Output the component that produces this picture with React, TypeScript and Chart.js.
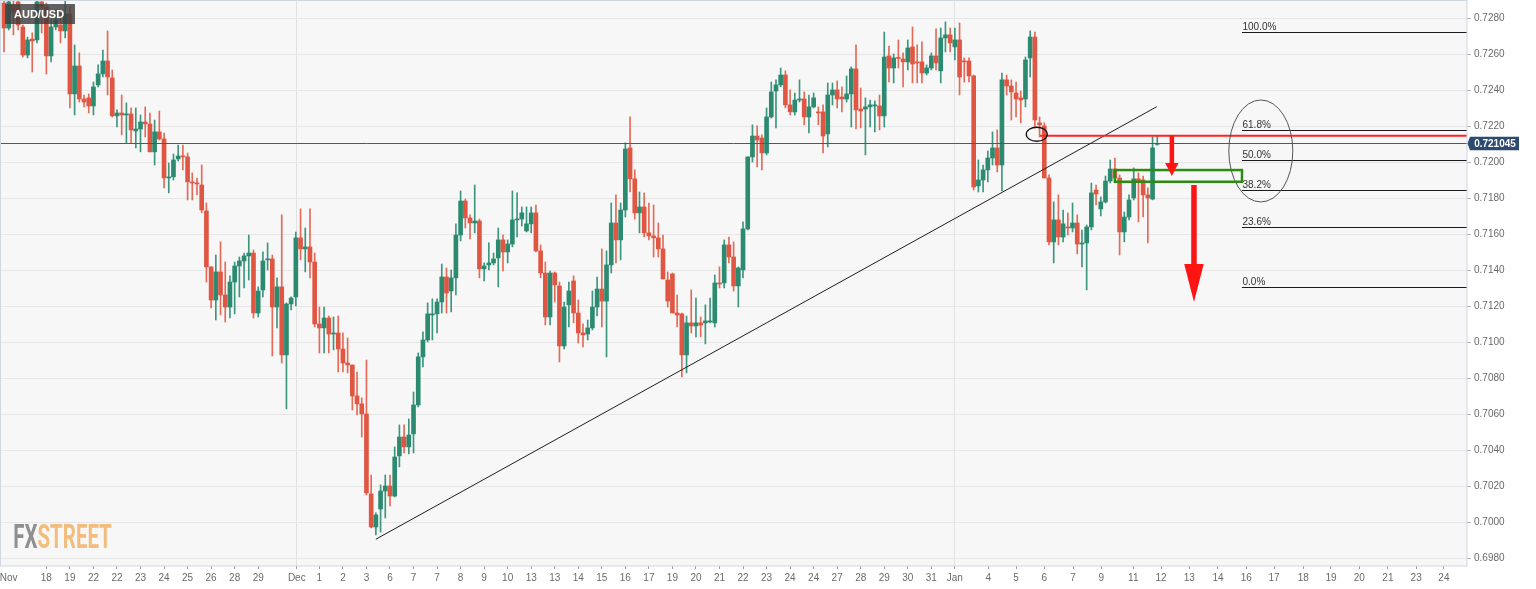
import React, { useEffect, useRef } from 'react';
import { Chart, registerables } from 'chart.js';

Chart.register(...registerables);

// ---- AUD/USD 4h candles (price values) ----
const opens = [
  0.72885, 0.72746, 0.72874, 0.72891, 0.72752, 0.72596, 0.72685, 0.72680, 0.72891, 0.72863,
  0.72591, 0.72752, 0.72763, 0.72730, 0.72824, 0.72380, 0.72535, 0.72352, 0.72358, 0.72313,
  0.72430, 0.72491, 0.72563, 0.72469, 0.72258, 0.72274, 0.72263, 0.72269, 0.72174, 0.72185,
  0.72224, 0.72213, 0.72058, 0.72169, 0.72130, 0.71913, 0.71919, 0.72019, 0.72035, 0.72030,
  0.71891, 0.71885, 0.71874, 0.71730, 0.71419, 0.71235, 0.71391, 0.71263, 0.71196, 0.71335,
  0.71424, 0.71452, 0.71480, 0.71496, 0.71163, 0.71291, 0.71458,
  0.71463, 0.71196, 0.71308, 0.70930, 0.71213, 0.71252, 0.71580, 0.71519, 0.71530, 0.71446,
  0.71102, 0.71080, 0.71135, 0.71046, 0.71052, 0.70963, 0.70885, 0.70874, 0.70702, 0.70658,
  0.70602, 0.70158, 0.69974, 0.70074, 0.70174, 0.70202, 0.70146, 0.70369, 0.70474, 0.70419,
  0.70491, 0.70652, 0.70919, 0.71013,
  0.71152, 0.71158, 0.71224, 0.71363, 0.71285, 0.71358, 0.71596, 0.71785, 0.71691, 0.71663,
  0.71674, 0.71408, 0.71430, 0.71441, 0.71469, 0.71569, 0.71502, 0.71546, 0.71680, 0.71685,
  0.71619, 0.71658, 0.71719, 0.71508, 0.71385, 0.71141, 0.71385, 0.71313, 0.70980, 0.71208,
  0.71341, 0.71163, 0.71052, 0.71046, 0.71080, 0.71196, 0.71296, 0.71229, 0.71430, 0.71663,
  0.71569, 0.71735, 0.72080, 0.71908, 0.71719, 0.71752, 0.71608, 0.71591, 0.71580, 0.71519,
  0.71346, 0.71380, 0.71163, 0.71158, 0.70930, 0.71108, 0.71091, 0.71108, 0.71108, 0.71113,
  0.71108, 0.71330, 0.71330, 0.71541, 0.71474, 0.71313, 0.71402, 0.71630, 0.72030, 0.72146,
  0.72135, 0.72052, 0.72252, 0.72396, 0.72430, 0.72485, 0.72319, 0.72280, 0.72346, 0.72352,
  0.72252, 0.72308, 0.72280, 0.72280, 0.72158, 0.72374, 0.72402, 0.72363, 0.72352, 0.72380,
  0.72519, 0.72296, 0.72296, 0.72308, 0.72313, 0.72313, 0.72258, 0.72591, 0.72524, 0.72580,
  0.72574, 0.72558, 0.72641, 0.72558, 0.72558, 0.72496, 0.72524, 0.72591, 0.72508, 0.72691,
  0.72708, 0.72641, 0.72680, 0.72563, 0.72563, 0.72480, 0.71869, 0.71902, 0.71958, 0.72024,
  0.72080, 0.71985, 0.72458, 0.72424, 0.72385, 0.72358, 0.72352, 0.72580, 0.72696, 0.72219,
  0.72202, 0.71913, 0.71558, 0.71680, 0.71585, 0.71641, 0.71635, 0.71663, 0.71546, 0.71552,
  0.71641, 0.71846, 0.71741, 0.71780, 0.71896, 0.71963, 0.71913, 0.71613, 0.71696, 0.71802,
  0.71908, 0.71902, 0.71819, 0.71796, 0.72100,
];

const highs = [
  0.72902, 0.72902, 0.72902, 0.72902, 0.72763, 0.72696, 0.72719, 0.72902, 0.72902, 0.72885,
  0.72791, 0.72846, 0.72846, 0.72902, 0.72863, 0.72652, 0.72608, 0.72374, 0.72380, 0.72446,
  0.72541, 0.72624, 0.72730, 0.72513, 0.72291, 0.72374, 0.72330, 0.72302, 0.72302, 0.72263,
  0.72308, 0.72274, 0.72235, 0.72285, 0.72163, 0.71996, 0.72046, 0.72096, 0.72096, 0.72052,
  0.71941, 0.71913, 0.71985, 0.71774, 0.71419, 0.71485, 0.71558, 0.71446, 0.71369, 0.71446,
  0.71474, 0.71496, 0.71596, 0.71513, 0.71308, 0.71502, 0.71552,
  0.71485, 0.71358, 0.71708, 0.71219, 0.71252, 0.71613, 0.71741, 0.71635, 0.71741, 0.71496,
  0.71196, 0.71196, 0.71146, 0.71141, 0.71146, 0.71052, 0.71024, 0.70874, 0.70835, 0.70691,
  0.70902, 0.70263, 0.70052, 0.70208, 0.70263, 0.70263, 0.70419, 0.70541, 0.70541, 0.70574,
  0.70724, 0.70941, 0.71058, 0.71219,
  0.71241, 0.71241, 0.71435, 0.71413, 0.71402, 0.71658, 0.71841, 0.71796, 0.71708, 0.71874,
  0.71685, 0.71441, 0.71552, 0.71496, 0.71635, 0.71596, 0.71569, 0.71841, 0.71830, 0.71752,
  0.71752, 0.71752, 0.71763, 0.71541, 0.71446, 0.71396, 0.71391, 0.71335, 0.71224, 0.71335,
  0.71369, 0.71235, 0.71102, 0.71124, 0.71285, 0.71363, 0.71519, 0.71508, 0.71774, 0.71819,
  0.71774, 0.72108, 0.72252, 0.71958, 0.71835, 0.71830, 0.71774, 0.71763, 0.71663, 0.71596,
  0.71391, 0.71385, 0.71263, 0.71163, 0.71146, 0.71291, 0.71246, 0.71141, 0.71208, 0.71246,
  0.71374, 0.71419, 0.71569, 0.71585, 0.71558, 0.71419, 0.71669, 0.72030, 0.72208, 0.72202,
  0.72152, 0.72302, 0.72446, 0.72458, 0.72524, 0.72508, 0.72402, 0.72385, 0.72458, 0.72391,
  0.72374, 0.72385, 0.72308, 0.72319, 0.72441, 0.72441, 0.72452, 0.72419, 0.72480, 0.72530,
  0.72652, 0.72413, 0.72358, 0.72346, 0.72341, 0.72374, 0.72724, 0.72646, 0.72602, 0.72680,
  0.72608, 0.72680, 0.72752, 0.72652, 0.72669, 0.72541, 0.72608, 0.72741, 0.72746, 0.72780,
  0.72746, 0.72746, 0.72774, 0.72580, 0.72580, 0.72485, 0.72013, 0.71985, 0.72063, 0.72169,
  0.72180, 0.72496, 0.72485, 0.72458, 0.72446, 0.72396, 0.72585, 0.72730, 0.72724, 0.72252,
  0.72219, 0.71930, 0.71780, 0.71819, 0.71735, 0.71719, 0.71774, 0.71708, 0.71624, 0.71652,
  0.71885, 0.71874, 0.71808, 0.71924, 0.72013, 0.72024, 0.71930, 0.71724, 0.71819, 0.71969,
  0.71941, 0.71924, 0.71858, 0.72141, 0.72145,
];

const lows = [
  0.72613, 0.72735, 0.72708, 0.72735, 0.72585, 0.72580, 0.72502, 0.72663, 0.72719, 0.72491,
  0.72558, 0.72735, 0.72663, 0.72691, 0.72302, 0.72263, 0.72335, 0.72308, 0.72274, 0.72263,
  0.72419, 0.72474, 0.72374, 0.72252, 0.72196, 0.72152, 0.72108, 0.72108, 0.72080, 0.72058,
  0.72141, 0.72058, 0.71985, 0.72124, 0.71858, 0.71830, 0.71902, 0.72008, 0.71958, 0.71791,
  0.71791, 0.71819, 0.71719, 0.71335, 0.71191, 0.71124, 0.71152, 0.71113, 0.71135, 0.71158,
  0.71252, 0.71302, 0.71346, 0.71135, 0.71141, 0.71252, 0.71402,
  0.70924, 0.71080, 0.70885, 0.70630, 0.71180, 0.71202, 0.71458, 0.71391, 0.71358, 0.71085,
  0.70941, 0.70941, 0.70941, 0.70958, 0.70835, 0.70835, 0.70830, 0.70624, 0.70596, 0.70474,
  0.70152, 0.69969, 0.69930, 0.69946, 0.70024, 0.70091, 0.70141, 0.70308, 0.70385, 0.70380,
  0.70385, 0.70641, 0.70863, 0.71002,
  0.71013, 0.71052, 0.71163, 0.71163, 0.71169, 0.71263, 0.71563, 0.71635, 0.71574, 0.71608,
  0.71358, 0.71341, 0.71402, 0.71430, 0.71308, 0.71396, 0.71441, 0.71530, 0.71585, 0.71646,
  0.71613, 0.71608, 0.71502, 0.71358, 0.71096, 0.71096, 0.71224, 0.70891, 0.70963, 0.71085,
  0.71108, 0.70996, 0.70974, 0.71013, 0.71069, 0.71146, 0.71085, 0.70919, 0.71385, 0.71441,
  0.71458, 0.71696, 0.71835, 0.71685, 0.71608, 0.71585, 0.71569, 0.71474, 0.71474, 0.71352,
  0.71196, 0.71163, 0.71085, 0.70808, 0.70830, 0.71052, 0.71030, 0.71030, 0.70991, 0.71108,
  0.71085, 0.71302, 0.71302, 0.71441, 0.71285, 0.71196, 0.71358, 0.71624, 0.72002, 0.71974,
  0.71958, 0.72041, 0.72246, 0.72191, 0.72419, 0.72302, 0.72263, 0.72263, 0.72335, 0.72208,
  0.72163, 0.72302, 0.72208, 0.72052, 0.72085, 0.72319, 0.72302, 0.72280, 0.72335, 0.72196,
  0.72185, 0.72191, 0.72041, 0.72196, 0.72169, 0.72180, 0.72196, 0.72446, 0.72441, 0.72524,
  0.72419, 0.72513, 0.72441, 0.72441, 0.72441, 0.72485, 0.72513, 0.72513, 0.72441, 0.72613,
  0.72613, 0.72569, 0.72374, 0.72446, 0.72446, 0.71846, 0.71835, 0.71835, 0.71891, 0.71985,
  0.71947, 0.71841, 0.72374, 0.72235, 0.72252, 0.72219, 0.72308, 0.72474, 0.72191, 0.72141,
  0.71913, 0.71541, 0.71441, 0.71541, 0.71558, 0.71596, 0.71613, 0.71491, 0.71419, 0.71291,
  0.71624, 0.71763, 0.71702, 0.71774, 0.71885, 0.71885, 0.71485, 0.71558, 0.71680, 0.71791,
  0.71669, 0.71696, 0.71552, 0.71791, 0.72095,
];

const closes = [
  0.72746, 0.72891, 0.72835, 0.72763, 0.72596, 0.72680, 0.72674, 0.72891, 0.72863, 0.72591,
  0.72752, 0.72791, 0.72730, 0.72824, 0.72380, 0.72535, 0.72352, 0.72335, 0.72313, 0.72419,
  0.72491, 0.72563, 0.72474, 0.72258, 0.72274, 0.72263, 0.72269, 0.72180, 0.72185, 0.72224,
  0.72213, 0.72058, 0.72169, 0.72130, 0.71913, 0.71919, 0.72013, 0.72035, 0.72030, 0.71891,
  0.71885, 0.71880, 0.71735, 0.71419, 0.71235, 0.71391, 0.71263, 0.71196, 0.71335, 0.71424,
  0.71452, 0.71480, 0.71496, 0.71163, 0.71285, 0.71452, 0.71463,
  0.71196, 0.71308, 0.70930, 0.71213, 0.71246, 0.71580, 0.71519, 0.71530, 0.71446, 0.71102,
  0.71080, 0.71135, 0.71046, 0.71052, 0.70963, 0.70885, 0.70874, 0.70702, 0.70658, 0.70602,
  0.70163, 0.69974, 0.70041, 0.70174, 0.70202, 0.70146, 0.70363, 0.70474, 0.70419, 0.70485,
  0.70652, 0.70919, 0.71013, 0.71158,
  0.71158, 0.71224, 0.71363, 0.71274, 0.71358, 0.71596, 0.71785, 0.71691, 0.71663, 0.71674,
  0.71408, 0.71424, 0.71441, 0.71463, 0.71569, 0.71502, 0.71546, 0.71680, 0.71685, 0.71719,
  0.71658, 0.71719, 0.71508, 0.71385, 0.71141, 0.71385, 0.71319, 0.70980, 0.71196, 0.71285,
  0.71163, 0.71052, 0.71041, 0.71080, 0.71196, 0.71296, 0.71229, 0.71430, 0.71663, 0.71569,
  0.71735, 0.72074, 0.71908, 0.71719, 0.71752, 0.71608, 0.71591, 0.71580, 0.71519, 0.71352,
  0.71229, 0.71163, 0.71152, 0.70930, 0.71108, 0.71091, 0.71108, 0.71096, 0.71119, 0.71119,
  0.71330, 0.71324, 0.71541, 0.71474, 0.71313, 0.71413, 0.71630, 0.72030, 0.72146, 0.72124,
  0.72052, 0.72252, 0.72391, 0.72430, 0.72485, 0.72319, 0.72280, 0.72346, 0.72352, 0.72252,
  0.72308, 0.72358, 0.72274, 0.72146, 0.72374, 0.72402, 0.72352, 0.72352, 0.72380, 0.72519,
  0.72291, 0.72285, 0.72308, 0.72319, 0.72319, 0.72258, 0.72585, 0.72524, 0.72580, 0.72577,
  0.72558, 0.72635, 0.72546, 0.72552, 0.72496, 0.72524, 0.72591, 0.72552, 0.72691, 0.72708,
  0.72663, 0.72680, 0.72474, 0.72558, 0.72480, 0.71863, 0.71902, 0.71958, 0.72024, 0.72080,
  0.71985, 0.72458, 0.72424, 0.72391, 0.72352, 0.72346, 0.72569, 0.72696, 0.72235, 0.72208,
  0.71913, 0.71558, 0.71680, 0.71585, 0.71658, 0.71635, 0.71663, 0.71546, 0.71552, 0.71641,
  0.71830, 0.71824, 0.71780, 0.71896, 0.71963, 0.71913, 0.71613, 0.71696, 0.71791, 0.71908,
  0.71896, 0.71819, 0.71802, 0.72080, 0.721045,
];

// ---- axis ticks ----
const xTickPos = [
  1, 9, 14, 19, 24, 29, 34, 39, 44, 49, 54, 62.2,
  67, 72, 77, 82, 87, 92, 97, 102, 107, 112, 117, 122, 127, 132, 137, 142, 147, 152,
  157, 162, 167, 172, 177, 182, 187, 192, 197, 202,
  209.1, 215, 221, 227.1, 233.1, 239.9, 245.8, 251.8, 257.9, 263.9, 269.8, 276, 281.9,
  287.9, 294, 300, 305.9,
];
const xTickLabels = [
  'Nov', '18', '19', '22', '22', '23', '24', '25', '26', '28', '29', 'Dec',
  '1', '2', '3', '6', '7', '7', '8', '9', '10', '13', '13', '14', '15', '16', '17', '19', '20', '21',
  '22', '23', '24', '24', '27', '28', '29', '30', '31', 'Jan',
  '4', '5', '6', '7', '9', '11', '12', '13', '14', '16', '17', '18', '19',
  '20', '21', '23', '24',
];
const monthLabels = ['Dec', 'Jan'];
const yTicks = [
  0.698, 0.700, 0.702, 0.704, 0.706, 0.708, 0.710, 0.712, 0.714, 0.716,
  0.718, 0.720, 0.722, 0.724, 0.726, 0.728,
];
const xRange = [-0.85, 310.8];
const yRange = [0.697573, 0.729017];

// ---- drawings (in candle index / price units) ----
const trendLineI = [79.0, 244.9];
const trendLineP = [0.69906, 0.72309];
const resistLevel = { from: 220.1, price: 0.72148 };
const smallEllipse = { i: 219.4, p: 0.72156 };
const bigEllipse = { i: 267.0, p: 0.72063 };
const greenBox = { i0: 236.0, i1: 263.0, p0: 0.71957, p1: 0.71892 };
const smallArrow = { i: 248.1, p0: 0.72148, p1: 0.71924 };
const bigArrow = { i: 252.8, p0: 0.71874, p1: 0.71224 };
const fibStart = 263.0;
const fibHigh = 0.72722;
const fibLow = 0.71306;
const fibRatios = [1, 0.618, 0.5, 0.382, 0.236, 0];
const fibNames = ['100.0%', '61.8%', '50.0%', '38.2%', '23.6%', '0.0%'];
const symbol = 'AUD/USD';

const GREEN = '#2b8a6f';
const RED = '#df5743';
const GREEN_W = '#3c967d';
const RED_W = '#e46a57';
const FONT = "'Liberation Sans', Arial, sans-serif";

const W = 1536;
const H = 589;

function drawArrow(ctx: CanvasRenderingContext2D, x: number, y0: number, y1: number, shaftW: number, headW: number, headH: number) {
  ctx.fillStyle = '#ff1414';
  ctx.fillRect(x - shaftW / 2, y0, shaftW, y1 - headH - y0 + 0.5);
  ctx.beginPath();
  ctx.moveTo(x - headW / 2, y1 - headH);
  ctx.lineTo(x + headW / 2, y1 - headH);
  ctx.lineTo(x, y1);
  ctx.closePath();
  ctx.fill();
}

const decor = {
  id: 'decor',
  beforeDraw(chart: any) {
    const { ctx, chartArea: a } = chart;
    ctx.save();
    ctx.fillStyle = '#ffffff';
    ctx.fillRect(0, 0, chart.width, chart.height);
    ctx.fillStyle = '#f7f7f7';
    ctx.fillRect(a.left, a.top, a.right - a.left, a.bottom - a.top);
    ctx.restore();
  },
  beforeDatasetsDraw(chart: any) {
    const { ctx } = chart;
    ctx.save();
    ctx.font = "bold 33px Roboto, 'Liberation Sans', sans-serif";
    ctx.textBaseline = 'alphabetic';
    ctx.textAlign = 'left';
    const w1 = ctx.measureText('FX').width;
    const w2 = ctx.measureText('STREET').width;
    const sx = 98.5 / (w1 + w2);
    ctx.translate(13.3, 548.3);
    ctx.scale(sx, 1);
    ctx.fillStyle = '#8f8f8f';
    ctx.fillText('FX', 0, 0);
    ctx.fillStyle = '#f2bd7c';
    ctx.fillText('STREET', w1, 0);
    ctx.restore();
  },
  afterDatasetsDraw(chart: any) {
    const { ctx, chartArea: a } = chart;
    const X = chart.scales.x;
    const Y = chart.scales.y;
    const px = (v: number) => X.getPixelForValue(v);
    const py = (v: number) => Y.getPixelForValue(v);
    ctx.save();
    ctx.beginPath();
    ctx.rect(a.left, a.top, a.right - a.left, a.bottom - a.top);
    ctx.clip();

    // current price line
    const last = closes[closes.length - 1];
    const yP = Math.round(py(last)) + 0.5;
    ctx.strokeStyle = '#3d5b84';
    ctx.lineWidth = 1;
    ctx.beginPath();
    ctx.moveTo(a.left, yP);
    ctx.lineTo(a.right, yP);
    ctx.stroke();

    // trend line
    ctx.strokeStyle = '#1e1e1e';
    ctx.lineWidth = 1;
    ctx.beginPath();
    ctx.moveTo(px(trendLineI[0]), py(trendLineP[0]));
    ctx.lineTo(px(trendLineI[1]), py(trendLineP[1]));
    ctx.stroke();

    // fibonacci levels
    ctx.font = `10px ${FONT}`;
    ctx.textAlign = 'left';
    ctx.textBaseline = 'alphabetic';
    fibRatios.forEach((r, k) => {
      const price = fibLow + (fibHigh - fibLow) * r;
      const y = Math.round(py(price)) + 0.5;
      const x0 = px(fibStart);
      ctx.strokeStyle = '#1a1a1a';
      ctx.lineWidth = 1.2;
      ctx.beginPath();
      ctx.moveTo(x0, y);
      ctx.lineTo(a.right, y);
      ctx.stroke();
      ctx.fillStyle = '#333333';
      ctx.fillText(fibNames[k], x0 + 0.5, y - 2.5);
    });

    // resistance level (red)
    ctx.strokeStyle = '#ff2222';
    ctx.lineWidth = 2;
    const yR = py(resistLevel.price);
    ctx.beginPath();
    ctx.moveTo(px(resistLevel.from), yR);
    ctx.lineTo(a.right, yR);
    ctx.stroke();

    // small ellipse
    ctx.strokeStyle = '#111111';
    ctx.lineWidth = 1.3;
    ctx.beginPath();
    ctx.ellipse(px(smallEllipse.i), py(smallEllipse.p), 10.5, 7, 0, 0, Math.PI * 2);
    ctx.stroke();

    // big ellipse
    ctx.strokeStyle = '#555555';
    ctx.lineWidth = 1;
    ctx.beginPath();
    ctx.ellipse(px(bigEllipse.i), py(bigEllipse.p), 32, 51, 0, 0, Math.PI * 2);
    ctx.stroke();

    // green box
    ctx.strokeStyle = '#2b8c12';
    ctx.lineWidth = 2.5;
    const bx0 = px(greenBox.i0), bx1 = px(greenBox.i1);
    const by0 = py(greenBox.p0), by1 = py(greenBox.p1);
    ctx.strokeRect(bx0, by0, bx1 - bx0, by1 - by0);

    // arrows
    drawArrow(ctx, px(smallArrow.i), py(smallArrow.p0), py(smallArrow.p1), 4.5, 13.5, 13);
    drawArrow(ctx, px(bigArrow.i), py(bigArrow.p0), py(bigArrow.p1), 5.5, 19.5, 38);

    ctx.restore();
  },
  afterDraw(chart: any) {
    const { ctx, chartArea: a } = chart;
    const Y = chart.scales.y;
    ctx.save();
    // plot border
    ctx.strokeStyle = '#cfd7e3';
    ctx.lineWidth = 1;
    ctx.strokeRect(a.left + 0.5, a.top + 0.5, a.right - a.left - 0.5, a.bottom - a.top - 0.5);

    // price tag
    const last = closes[closes.length - 1];
    const cy = Math.round(Y.getPixelForValue(last)) + 0.5;
    ctx.fillStyle = '#2d4a70';
    ctx.beginPath();
    ctx.moveTo(a.right + 0.5, cy);
    ctx.lineTo(a.right + 3, cy - 6.8);
    ctx.lineTo(a.right + 52, cy - 6.8);
    ctx.lineTo(a.right + 52, cy + 6.8);
    ctx.lineTo(a.right + 3, cy + 6.8);
    ctx.closePath();
    ctx.fill();
    ctx.fillStyle = '#ffffff';
    ctx.font = `bold 10px ${FONT}`;
    ctx.textAlign = 'center';
    ctx.textBaseline = 'middle';
    ctx.fillText(last.toFixed(6), a.right + 28, cy + 0.5);

    // symbol label
    ctx.fillStyle = 'rgba(62, 62, 62, 0.82)';
    ctx.fillRect(a.left + 5, a.top + 4, 70, 20);
    ctx.fillStyle = '#ffffff';
    ctx.font = `bold 11px ${FONT}`;
    ctx.textAlign = 'left';
    ctx.textBaseline = 'middle';
    ctx.fillText(symbol, a.left + 14, a.top + 14.5);
    ctx.restore();
  },
};

export default function App() {
  const ref = useRef<HTMLCanvasElement | null>(null);

  useEffect(() => {
    document.body.style.margin = '0';
    const canvas = ref.current;
    if (!canvas) return;
    Chart.defaults.font.family = FONT;
    const n = Math.min(opens.length, highs.length, lows.length, closes.length);
    const idx = Array.from({ length: n }, (_, i) => i);
    const up = idx.map((i) => closes[i] >= opens[i]);
    const chart = new Chart(canvas, {
      type: 'bar',
      data: {
        datasets: [
          {
            label: 'body',
            data: idx.map((i) => ({ x: i, y: [opens[i], closes[i]] })) as any,
            backgroundColor: up.map((u) => (u ? GREEN : RED)),
            borderWidth: 0,
            barThickness: 4,
            minBarLength: 1,
            grouped: false,
            order: 1,
          } as any,
          {
            label: 'wick',
            data: idx.map((i) => ({ x: i, y: [lows[i], highs[i]] })) as any,
            backgroundColor: up.map((u) => (u ? GREEN_W : RED_W)),
            borderWidth: 0,
            barThickness: 1,
            grouped: false,
            order: 2,
          } as any,
        ],
      },
      options: {
        animation: false,
        responsive: false,
        devicePixelRatio: 1,
        layout: { padding: 0 },
        plugins: { legend: { display: false }, tooltip: { enabled: false } },
        scales: {
          x: {
            type: 'linear',
            min: xRange[0],
            max: xRange[1],
            offset: false,
            bounds: 'data',
            border: { display: false },
            grid: {
              offset: false,
              color: (c: any) => (monthLabels.includes(xTickLabels[c.index]) ? '#e2e2e2' : 'rgba(0,0,0,0)'),
              lineWidth: 1,
              drawTicks: true,
              tickLength: 3,
              tickColor: (c: any) => (xTickLabels[c.index] === 'Nov' ? 'rgba(0,0,0,0)' : '#9a9a9a'),
            },
            ticks: {
              autoSkip: false,
              maxRotation: 0,
              minRotation: 0,
              padding: 3,
              color: '#6a6a6a',
              font: { size: 10, family: FONT },
              callback: (_v: any, i: number) => xTickLabels[i],
            },
            afterBuildTicks: (s: any) => {
              s.ticks = xTickPos.map((v) => ({ value: v }));
            },
            afterFit: (s: any) => {
              s.height = 23;
              s.paddingLeft = 0;
              s.paddingRight = 0;
            },
          } as any,
          y: {
            type: 'linear',
            position: 'right',
            min: yRange[0],
            max: yRange[1],
            beginAtZero: false,
            bounds: 'data',
            border: { display: false },
            grid: {
              color: '#e6e6e6',
              lineWidth: 1,
              drawTicks: true,
              tickLength: 4,
              tickColor: '#b5b5b5',
            },
            ticks: {
              padding: 3,
              color: '#6a6a6a',
              font: { size: 10, family: FONT },
              callback: (v: any) => Number(v).toFixed(4),
            },
            afterBuildTicks: (s: any) => {
              s.ticks = yTicks.map((v) => ({ value: v }));
            },
            afterFit: (s: any) => {
              s.width = 69;
              s.paddingTop = 0;
              s.paddingBottom = 0;
            },
          } as any,
        },
      } as any,
      plugins: [decor],
    });
    return () => chart.destroy();
  }, []);

  return (
    <div style={{ position: 'absolute', left: 0, top: 0, width: W, height: H, background: '#ffffff' }}>
      <canvas ref={ref} width={W} height={H} style={{ display: 'block', width: W, height: H }} />
    </div>
  );
}
